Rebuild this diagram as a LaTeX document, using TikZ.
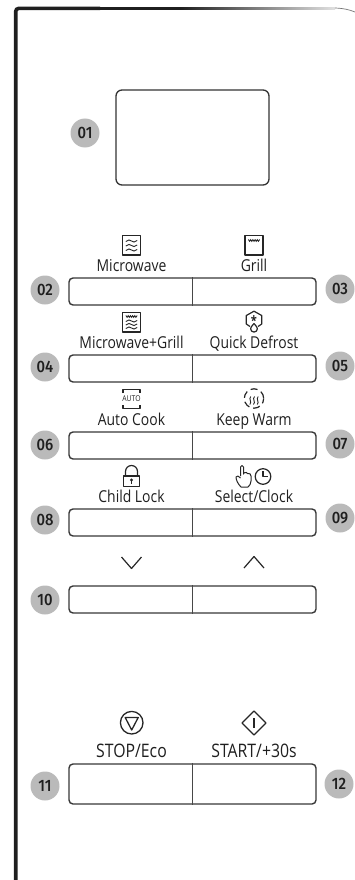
\documentclass[tikz,border=0pt]{standalone}
\usepackage{fontspec}
\setmainfont[FakeStretch=.85]{Open Sans}
\newfontfamily\badgefont[FakeStretch=.9]{Fira Sans Medium}
\colorlet{ink}{black!88}
\tikzset{
  x=1pt,y=-1pt,
  btn/.style={draw=black!78,line width=1.4pt,rounded corners=4pt,minimum width=247pt,inner sep=0pt,fill=white},
  splitline/.style={draw=black!72,line width=1.3pt},
  badge/.style={circle,fill=black!27,minimum size=29pt,inner sep=0pt,text=ink,font=\badgefont\fontsize{16.5}{16.5}\selectfont},
  lab/.style={inner sep=0pt,anchor=base,text=ink,font=\fontsize{16.4}{17}\selectfont},
  biglab/.style={lab,font=\fontsize{18.6}{19}\selectfont},
  ico/.style={draw=black!85,line width=1.2pt,line join=round},
  thin ico/.style={draw=black!85,line width=.9pt,line cap=round},
  pics/ripple/.style={code={
    \draw[thin ico] (-5.5,.4) .. controls (-3.5,-1.6) and (-1.5,-1.4) .. (0,0) .. controls (1.5,1.4) and (3.5,1.6) .. (5.5,-.4);
  }},
  pics/zigzag/.style={code={
    \draw[thin ico] (-5.5,-.8) -- (-4.4,.8) -- (-3.3,-.8) -- (-2.2,.8) -- (-1.1,-.8) -- (0,.8) -- (1.1,-.8) -- (2.2,.8) -- (3.3,-.8) -- (4.4,.8) -- (5.5,-.8);
  }},
  pics/heat/.style={code={
    \draw[thin ico] (.4,-3.8) .. controls (-2,-1.5) and (2,1.5) .. (-.4,3.8);
  }}
}
\begin{document}
\begin{tikzpicture}
\useasboundingbox (0,0) rectangle (355,880);
% housing
\begin{scope}
\clip (0,0) rectangle (355,880);
\shade[left color=black!88,right color=black!12] (180,7.2) rectangle (335,9.6);
\draw[black!88,line width=2.6pt] (100,8.4) -- (180,8.4);
\draw[black!88,line width=3.6pt,rounded corners=3pt] (15.7,880) -- (15.7,8.4) -- (100,8.4);
\draw[black!55,line width=.7pt] (335,8) .. controls (343,8.3) and (349,9.5) .. (355,12);
\end{scope}
% display
\node[draw=black!80,line width=1.3pt,rounded corners=6pt,minimum width=153pt,minimum height=95pt,inner sep=0pt] (display) at (192.5,137.5) {};
\node[badge] (b01) at (85,133) {01};
% buttons
\node[btn,minimum height=27pt] (r1) at (192.5,291.5) {};
\node[btn,minimum height=27pt] (r2) at (192.5,368.5) {};
\node[btn,minimum height=27pt] (r3) at (192.5,445.5) {};
\node[btn,minimum height=27pt] (r4) at (192.5,522.5) {};
\node[btn,minimum height=27pt] (r5) at (192.5,599.5) {};
\node[btn,minimum height=40pt] (r6) at (192.5,784) {};
\foreach \r in {r1,r2,r3,r4,r5,r6} \draw[splitline] (\r.north) -- (\r.south);
% badges
\node[badge] (b02) at (45,290) {02};
\node[badge] (b03) at (340,289) {03};
\node[badge] (b04) at (45,367) {04};
\node[badge] (b05) at (340,366) {05};
\node[badge] (b06) at (45,445) {06};
\node[badge] (b07) at (340,444) {07};
\node[badge] (b08) at (45,520) {08};
\node[badge] (b09) at (340,518) {09};
\node[badge] (b10) at (45,600) {10};
\node[badge] (b11) at (45,786) {11};
\node[badge] (b12) at (339,784) {12};
% labels
\node[lab] (l1) at (131.5,271) {Microwave};
\node[lab] (l2) at (254,271) {Grill};
\node[lab] (l3) at (131.5,348) {Microwave+Grill};
\node[lab] (l4) at (254,348) {Quick Defrost};
\node[lab] (l5) at (131.5,425) {Auto Cook};
\node[lab] (l6) at (254,425) {Keep Warm};
\node[lab] (l7) at (131.5,502) {Child Lock};
\node[lab] (l8) at (254,502) {Select/Clock};
\node[biglab] (l9) at (131.5,757.5) {STOP/Eco};
\node[biglab] (l10) at (254,757.5) {START/+30s};
% microwave icon
\draw[ico] (122.7,235.5) rectangle (140.3,255);
\foreach \yy in {241,245.5,250} \pic at (131.5,\yy) {ripple};
% grill icon
\draw[ico] (245,235.5) rectangle (263,255);
\pic at (254,240.5) {zigzag};
% microwave+grill icon
\draw[ico] (122.7,312.5) rectangle (140.3,332);
\pic at (131.5,316.5) {zigzag};
\foreach \yy in {321,324.5,328} \pic at (131.5,\yy) {ripple};
% quick defrost icon
\draw[ico] (250,326.5) -- (246.3,324) -- (246.3,315.5) -- (254,311.2) -- (261.7,315.5) -- (261.7,324) -- (258,326.5);
\node[inner sep=0pt,text=ink,font=\fontsize{13}{13}\selectfont\bfseries] (star) at (254,320.5) {*};
\draw[ico] (254,323.5) .. controls (251.5,326.5) and (250.6,327.5) .. (250.6,328.7) arc[start angle=180,end angle=0,radius=3.4] .. controls (257.4,327.5) and (256.5,326.5) .. (254,323.5);
% auto icon
\draw[ico] (123,393) -- (123,389.5) -- (140,389.5) -- (140,393);
\draw[ico] (123,405) -- (123,408.5) -- (140,408.5) -- (140,405);
\node[inner sep=0pt,text=ink,font=\fontsize{8}{8}\selectfont] (auto) at (131.5,399) {AUTO};
% keep warm icon
\draw[ico,dash pattern=on 7pt off 4pt,dash phase=2pt] (254,398.5) circle[radius=9.7];
\foreach \xx in {250.3,254,257.7} \pic at (\xx,400.5) {heat};
% lock icon
\draw[ico] (123.5,476) rectangle (139.5,486.5);
\draw[ico] (125.5,476) -- (125.5,471.5) arc[start angle=180,end angle=360,radius=6] -- (137.5,476);
\fill[black!85] (131.5,480) circle[radius=1.7];
\draw[ico] (131.5,480) -- (131.5,484);
% hand + clock
\draw[ico,line width=1pt] (240.5,476) -- (240.5,467) arc[start angle=180,end angle=360,radius=1.5] -- (243.5,474) -- (243.5,473) .. controls (245.5,472) and (247.5,472.3) .. (247.5,473.5) .. controls (249.5,473) and (251,474) .. (251,476) -- (251,481) .. controls (251,484) and (249.5,485.5) .. (248,487) -- (241,487) .. controls (238,484) and (236,480) .. (236,477) .. controls (236.5,475.5) and (239,475.5) .. (240.5,478);
\draw[ico] (263,476.5) circle[radius=7.8];
\draw[ico] (263,471) -- (263,476.5) -- (268,476.5);
% chevrons
\draw[ico] (121.5,557) -- (131.5,568.5) -- (141.5,557);
\draw[ico] (244,568) -- (254,556.5) -- (264,568);
% stop icon
\draw[ico,line width=1.3pt] (131.7,722.7) circle[radius=11.3];
\draw[ico,line width=1.3pt] (125.2,717.5) -- (138.2,717.5) -- (131.7,730) -- cycle;
% start icon
\draw[ico,line width=1.3pt] (254,711) -- (266,723) -- (254,735) -- (242,723) -- cycle;
\draw[ico,line width=1.3pt] (254,718) -- (254,728);
\end{tikzpicture}
\end{document}
